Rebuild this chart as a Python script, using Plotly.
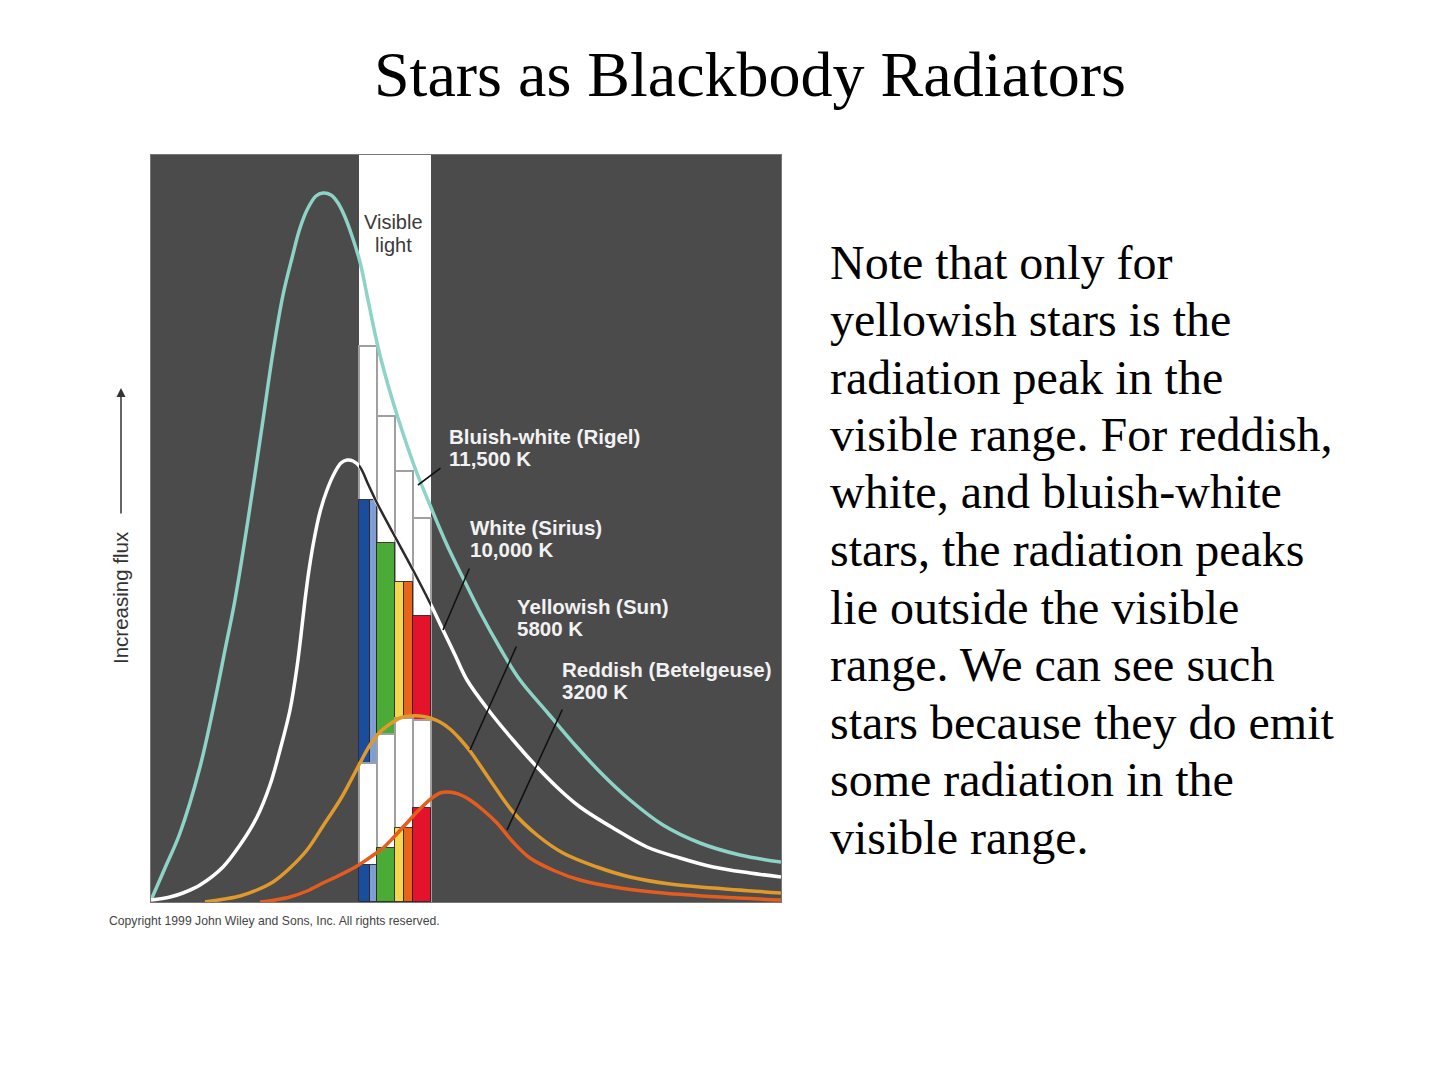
import plotly.graph_objects as go

# ---------------- data (arbitrary wavelength units, arbitrary flux units) ----------------
rigel_x = [0, 14, 29, 49, 64, 74, 84, 97, 112, 122, 132, 141, 149, 157, 165, 172, 180, 187, 194, 201,
           209, 217, 227, 237, 247, 264, 281, 296, 312, 329, 349, 369, 396, 424, 452, 479, 512, 549, 589, 630]
rigel_y = [2, 34, 69, 135, 202, 252, 302, 382, 482, 550, 607, 644, 674, 694, 706, 709, 707, 699, 685, 666,
           640, 602, 555, 517, 484, 434, 392, 357, 324, 290, 254, 222, 190, 157, 127, 102, 77, 59, 47, 40]

sirius_x = [0, 19, 32, 49, 72, 89, 106, 119, 129, 139, 146, 150, 154, 158, 163, 169, 176, 184, 190, 196, 202,
            209, 217, 226, 242, 262, 279, 292, 304, 316, 339, 362, 386, 409, 429, 462, 496, 529, 562, 599, 630]
sirius_y = [2, 5, 9, 17, 35, 57, 85, 117, 152, 192, 235, 267, 302, 332, 362, 390, 412, 430, 439, 442, 441,
            435, 418, 399, 369, 332, 299, 272, 247, 222, 190, 162, 135, 112, 95, 74, 55, 44, 35, 29, 25]

sun_x = [54, 74, 89, 106, 122, 139, 156, 172, 189, 199, 209, 219, 229, 239, 249, 259, 269, 279, 289, 299,
         309, 319, 339, 362, 386, 412, 446, 479, 519, 562, 630]
sun_y = [0, 3, 6, 12, 20, 34, 52, 76, 102, 120, 139, 157, 170, 178, 184, 186, 186, 184, 180, 173,
         163, 151, 122, 90, 67, 49, 35, 25, 18, 14, 9]

betel_x = [109, 124, 139, 156, 172, 189, 206, 221, 232, 242, 254, 266, 274, 281, 289, 296, 304, 312, 319,
           332, 346, 362, 379, 404, 429, 469, 512, 569, 630]
betel_y = [0, 2, 5, 11, 19, 27, 36, 46, 54, 64, 77, 90, 98, 104, 109, 110, 109, 106, 102,
           92, 79, 60, 44, 31, 22, 14, 9, 5, 2]

# visible-light colour bands (blue, green, yellow, red) and flux per band for each star
band_names = ["blue", "green", "yellow", "red"]
rigel_bands = [556, 486, 431, 384]
sirius_bands = [402, 359, 320, 286]
sun_bands = [139, 168, 184, 182]
betel_bands = [37, 54, 74, 94]

star_labels = [("Bluish-white (Rigel)", "11,500 K"), ("White (Sirius)", "10,000 K"),
               ("Yellowish (Sun)", "5800 K"), ("Reddish (Betelgeuse)", "3200 K")]

title_text = "Stars as Blackbody Radiators"
note_lines = [
    "Note that only for",
    "yellowish stars is the",
    "radiation peak in the",
    "visible range. For reddish,",
    "white, and bluish-white",
    "stars, the radiation peaks",
    "lie outside the visible",
    "range. We can see such",
    "stars because they do emit",
    "some radiation in the",
    "visible range.",
]

# ---------------- geometry / style ----------------
W, H = 1440, 1080
PX0, PX1, PY0, PY1 = 151, 781, 155, 902           # plot area in pixels
XR = [0, PX1 - PX0]
YR = [0, PY1 - PY0]
VIS = [208, 280]                                    # visible band (x units)
band_edges = [208, 226, 244, 262, 280]
# colour strips: (band index, x0, x1, colour)
strips = [(0, 208, 219, "#1b4d9e"), (0, 219, 226, "#7f9fd3"), (1, 226, 244, "#4aab37"),
          (2, 244, 253, "#f4d84c"), (2, 253, 262, "#e8661b"), (3, 262, 280, "#e5122c")]

def px(xp):
    return xp / W

def py(yp):
    return 1 - yp / H

fig = go.Figure()

def white_boxes(vals, name):
    xs = [(band_edges[i] + band_edges[i + 1]) / 2 for i in range(4)]
    ws = [band_edges[i + 1] - band_edges[i] for i in range(4)]
    fig.add_trace(go.Bar(x=xs, y=vals, width=ws, name=name,
                         marker=dict(color="white", line=dict(color="#a0a0a0", width=2)),
                         showlegend=False, hoverinfo="skip"))

def colour_strips(vals, name):
    xs = [(a + b) / 2 for _, a, b, _ in strips]
    ws = [b - a for _, a, b, _ in strips]
    ys = [vals[i] for i, _, _, _ in strips]
    cs = [c for _, _, _, c in strips]
    fig.add_trace(go.Bar(x=xs, y=ys, width=ws, name=name,
                         marker=dict(color=cs, line=dict(color="rgba(40,30,30,0.85)", width=1)),
                         showlegend=False, hoverinfo="skip"))

white_boxes(rigel_bands, "Rigel bands")
colour_strips(sirius_bands, "Sirius bands")
white_boxes(sun_bands, "Sun bands")
colour_strips(betel_bands, "Betelgeuse bands")

line_kw = dict(mode="lines", showlegend=False, hoverinfo="skip")
sp = dict(shape="spline", smoothing=1.0)
fig.add_trace(go.Scatter(x=rigel_x, y=rigel_y, line=dict(color="#8dd3c7", width=3.5, **sp), **line_kw))
fig.add_trace(go.Scatter(x=sirius_x, y=sirius_y, line=dict(color="#ffffff", width=3.5, **sp), **line_kw))
fig.add_trace(go.Scatter(x=sun_x, y=sun_y, line=dict(color="#e0992b", width=3.5, **sp), **line_kw))
fig.add_trace(go.Scatter(x=betel_x, y=betel_y, line=dict(color="#e45d1f", width=3.5, **sp), **line_kw))
# dark rendering of the white curve where it crosses the white visible band (clipped subplot)
fig.add_trace(go.Scatter(x=sirius_x, y=sirius_y, xaxis="x2", yaxis="y",
                         line=dict(color="#2b2b2b", width=2.5, **sp), **line_kw))

dom_x = [px(PX0), px(PX1)]
dom_y = [py(PY1), py(PY0)]
vis_dom = [px(PX0 + VIS[0]), px(PX0 + VIS[1])]

ann = []
# leader lines (tip on curve, tail toward label)
leaders = [((267, 417), (291, 435)), ((292, 272), (319, 335)),
           ((319, 152), (366, 257)), ((356, 72), (412, 194))]
for (x0, y0), (x1, y1) in leaders:
    ann.append(dict(x=x0, y=y0, ax=x1, ay=y1, xref="x", yref="y", axref="x", ayref="y",
                    text="", showarrow=True, arrowhead=0, arrowwidth=1.6, arrowcolor="#111"))
label_pos = [(296, 466, 444), (317, 375, 353), (364, 296, 274), (409, 233, 211)]
lab_font = dict(family="Arial, Liberation Sans", size=20.5, color="#f2f2f2")
for (x, y1, y2), (t1, t2) in zip(label_pos, star_labels):
    for y, t in ((y1, t1), (y2, t2)):
        ann.append(dict(x=x, y=y, xref="x", yref="y", text="<b>" + t + "</b>", showarrow=False,
                        xanchor="left", yanchor="middle", font=lab_font))
for y, t in ((680, "Visible"), (657, "light")):
    ann.append(dict(x=242, y=y, xref="x", yref="y", text=t, showarrow=False,
                    xanchor="center", yanchor="middle",
                    font=dict(family="Arial, Liberation Sans", size=20, color="#3a3a3a")))
# y-axis caption and arrow
ann.append(dict(x=px(120), y=py(598), xref="paper", yref="paper", text="Increasing flux",
                textangle=-90, showarrow=False, xanchor="center", yanchor="middle",
                font=dict(family="Arial, Liberation Sans", size=20.5, color="#333")))
ann.append(dict(x=px(121), y=py(388), ax=0, ay=127, xref="paper", yref="paper",
                axref="pixel", ayref="pixel", text="", showarrow=True, arrowhead=2,
                arrowsize=1.2, arrowwidth=1.5, arrowcolor="#333"))
ann.append(dict(x=px(107), y=py(921), xref="paper", yref="paper",
                text="Copyright 1999 John Wiley and Sons, Inc. All rights reserved.",
                showarrow=False, xanchor="left", yanchor="middle",
                font=dict(family="Arial, Liberation Sans", size=12.2, color="#444")))
# title
ann.append(dict(x=px(750), y=py(75), xref="paper", yref="paper", text=title_text,
                showarrow=False, xanchor="center", yanchor="middle",
                font=dict(family="Times New Roman, Liberation Serif", size=64, color="#000")))
# note text
for i, t in enumerate(note_lines):
    ann.append(dict(x=px(828), y=py(262 + i * 57.5), xref="paper", yref="paper", text=t,
                    showarrow=False, xanchor="left", yanchor="middle",
                    font=dict(family="Times New Roman, Liberation Serif", size=48, color="#000")))

fig.update_layout(
    width=W, height=H, margin=dict(l=0, r=0, t=0, b=0),
    paper_bgcolor="white", plot_bgcolor="rgba(0,0,0,0)",
    barmode="overlay", bargap=0,
    xaxis=dict(domain=dom_x, range=XR, visible=True, showgrid=False, zeroline=False,
               showticklabels=False, ticks="", showline=True, linecolor="#777", mirror=True),
    yaxis=dict(domain=dom_y, range=YR, visible=True, showgrid=False, zeroline=False,
               showticklabels=False, ticks="", showline=True, linecolor="#777", mirror=True),
    xaxis2=dict(domain=vis_dom, range=VIS, anchor="y", visible=False),
    shapes=[dict(type="rect", xref="x", yref="y", x0=XR[0], x1=XR[1], y0=YR[0], y1=YR[1],
                 fillcolor="#4b4b4b", line=dict(width=0), layer="below"),
            dict(type="rect", xref="x", yref="y", x0=VIS[0], x1=VIS[1], y0=YR[0], y1=YR[1],
                 fillcolor="white", line=dict(width=0), layer="below")],
    annotations=ann,
)

fig.write_html("out.html")
